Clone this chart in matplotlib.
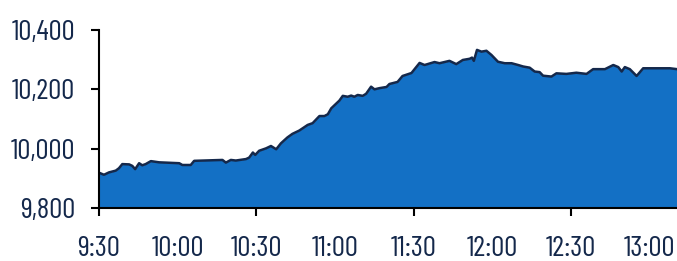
import matplotlib
matplotlib.use("Agg")
import matplotlib.pyplot as plt

# minutes after 9:30 and index level
minutes = [0, 1.9, 3.8, 6.4, 7.6, 8.9, 11.5, 12.7, 13.8, 15.3, 16.5, 17.8, 19.8, 22.9,
           30.6, 31.8, 35.0, 36.3, 47.1, 48.4, 50.3, 52.2, 56.1, 57.3, 58.7, 59.6,
           61.1, 63.7, 65.6, 67.6, 69.4, 71.9, 73.8, 76.4, 79.6, 81.5, 84.1, 86.0,
           87.3, 88.6, 91.7, 93.0, 94.9, 96.2, 97.4, 98.7, 100.6, 101.9, 103.8, 105.1,
           107.0, 109.7, 110.8, 113.9, 115.8, 119.2, 122.3, 124.2, 128.0, 129.9, 133.7,
           136.3, 138.8, 141.4, 142.3, 143.0, 144.2, 145.9, 147.8, 149.7, 152.2, 154.8,
           157.4, 159.9, 161.8, 164.3, 166.2, 168.1, 169.4, 172.6, 174.5, 178.3, 182.1,
           186.0, 188.5, 193.0, 196.2, 198.1, 199.4, 200.6, 202.5, 205.1, 207.6, 212.7,
           217.8, 220.5]
level = [9919, 9912, 9920, 9926, 9934, 9948, 9947, 9942, 9931, 9951, 9944, 9948, 9958, 9954,
         9951, 9945, 9945, 9959, 9962, 9953, 9962, 9960, 9965, 9970, 9987, 9979,
         9993, 10001, 10009, 9998, 10018, 10038, 10050, 10061, 10080, 10086, 10110, 10110,
         10116, 10136, 10162, 10178, 10175, 10179, 10175, 10181, 10178, 10185, 10209, 10200,
         10204, 10208, 10218, 10225, 10245, 10255, 10289, 10282, 10292, 10288, 10296,
         10285, 10299, 10303, 10307, 10296, 10333, 10327, 10330, 10316, 10293, 10288,
         10288, 10282, 10277, 10273, 10260, 10258, 10246, 10243, 10254, 10252, 10256,
         10252, 10268, 10268, 10282, 10275, 10260, 10275, 10268, 10245, 10271, 10271,
         10271, 10268]

y_ticks = [9800, 10000, 10200, 10400]
y_labels = ["9,800", "10,000", "10,200", "10,400"]
hour_ticks = [0, 60, 120, 180]
hour_labels = ["9:30", "10:30", "11:30", "12:30"]
half_ticks = [30, 90, 150, 210]
half_labels = ["10:00", "11:00", "12:00", "13:00"]

navy = "#14284b"
fill_blue = "#1370c5"

plt.rcParams["font.family"] = ["Barlow Condensed", "DejaVu Sans"]

fig = plt.figure(figsize=(6.77, 2.61), dpi=100)
ax = fig.add_axes([99 / 677, 53 / 261, 578 / 677, 178 / 261])

ax.fill_between(minutes, level, 9800, color=fill_blue, linewidth=0)
ax.plot(minutes, level, color=navy, linewidth=1.8, solid_joinstyle="round")

ax.set_xlim(0, 220.5)
ax.set_ylim(9800, 10400)

for s in ["top", "right"]:
    ax.spines[s].set_visible(False)
for s in ["left", "bottom"]:
    ax.spines[s].set_linewidth(1.5)
    ax.spines[s].set_color("black")
    ax.spines[s].set_zorder(5)

ax.set_yticks(y_ticks)
ax.set_yticklabels(y_labels)
ax.tick_params(axis="y", length=6, width=1.5, pad=11, labelsize=21, labelcolor=navy)

ax.set_xticks(hour_ticks)
ax.set_xticklabels(hour_labels)
ax.set_xticks(half_ticks, minor=True)
ax.set_xticklabels(half_labels, minor=True)
ax.tick_params(axis="x", which="major", length=6, width=1.5, pad=14, labelsize=21, labelcolor=navy)
ax.tick_params(axis="x", which="minor", length=0, pad=14 + 6, labelsize=21, labelcolor=navy)

fig.savefig("out.png", dpi=100)
